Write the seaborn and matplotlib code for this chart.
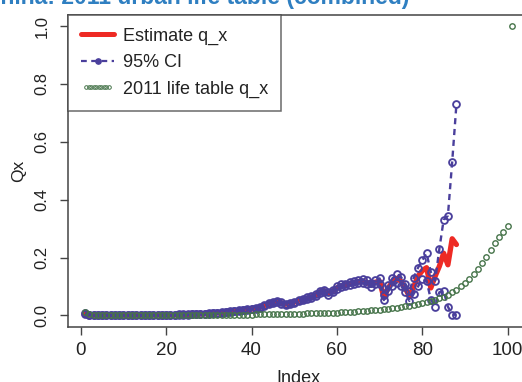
import numpy as np
import pandas as pd
import matplotlib
matplotlib.use("Agg")
import matplotlib.pyplot as plt
import seaborn as sns
from matplotlib.lines import Line2D
from matplotlib.legend_handler import HandlerLine2D

# ---------------- data ----------------
estimate_qx = [0.006, 0.002, 0.001, 0.001, 0.001, 0.001, 0.001, 0.001, 0.001, 0.001,
               0.001, 0.001, 0.001, 0.001, 0.0015, 0.0015, 0.002, 0.002, 0.002, 0.002,
               0.0025, 0.0025, 0.003, 0.003, 0.0035, 0.004, 0.004, 0.005, 0.006, 0.007,
               0.008, 0.009, 0.010, 0.012, 0.013, 0.015, 0.017, 0.019, 0.020, 0.022,
               0.024, 0.028, 0.034, 0.040, 0.045, 0.047, 0.043, 0.039, 0.041, 0.046,
               0.052, 0.055, 0.059, 0.063, 0.070, 0.081, 0.085, 0.076, 0.084, 0.095,
               0.102, 0.105, 0.110, 0.113, 0.117, 0.118, 0.114, 0.106, 0.115, 0.118,
               0.062, 0.095, 0.115, 0.128, 0.118, 0.095, 0.065, 0.100, 0.135, 0.155,
               0.165, 0.095, 0.135, 0.170, 0.215, 0.175, 0.265, 0.245]

ci_lower = [0.004, 0.001, 0.0005, 0.0005, 0.0005, 0.0005, 0.0005, 0.0005, 0.0005, 0.0005,
            0.0005, 0.0005, 0.0005, 0.0005, 0.001, 0.001, 0.0015, 0.0015, 0.0015, 0.0015,
            0.002, 0.002, 0.0025, 0.0025, 0.003, 0.0035, 0.0035, 0.0045, 0.0055, 0.0065,
            0.0075, 0.0085, 0.0095, 0.011, 0.012, 0.014, 0.016, 0.018, 0.019, 0.021,
            0.023, 0.026, 0.032, 0.038, 0.043, 0.045, 0.041, 0.037, 0.039, 0.044,
            0.050, 0.052, 0.056, 0.060, 0.067, 0.077, 0.081, 0.072, 0.080, 0.090,
            0.097, 0.100, 0.104, 0.107, 0.111, 0.111, 0.107, 0.099, 0.107, 0.108,
            0.053, 0.084, 0.102, 0.113, 0.103, 0.080, 0.050, 0.075, 0.100, 0.125,
            0.120, 0.055, 0.030, 0.080, 0.085, 0.030, 0.003, 0.002]

ci_upper = [0.008, 0.003, 0.0015, 0.0015, 0.0015, 0.0015, 0.0015, 0.0015, 0.0015, 0.0015,
            0.0015, 0.0015, 0.0015, 0.0015, 0.002, 0.002, 0.0025, 0.0025, 0.0025, 0.0025,
            0.003, 0.003, 0.0035, 0.0035, 0.004, 0.0045, 0.0045, 0.0055, 0.0065, 0.0075,
            0.0085, 0.0095, 0.0105, 0.013, 0.014, 0.016, 0.018, 0.020, 0.021, 0.023,
            0.025, 0.030, 0.036, 0.042, 0.047, 0.049, 0.045, 0.041, 0.043, 0.048,
            0.054, 0.058, 0.062, 0.066, 0.073, 0.085, 0.089, 0.080, 0.088, 0.100,
            0.107, 0.110, 0.116, 0.119, 0.123, 0.125, 0.121, 0.113, 0.123, 0.128,
            0.072, 0.106, 0.128, 0.143, 0.133, 0.110, 0.085, 0.130, 0.165, 0.190,
            0.215, 0.150, 0.120, 0.230, 0.330, 0.345, 0.530, 0.730]

life_table_qx = [0.012, 0.004, 0.002, 0.0015, 0.0012,
                 0.001, 0.001, 0.001, 0.001, 0.001, 0.001, 0.001,
                 0.0011, 0.0011, 0.0011, 0.0011, 0.0011, 0.0011,
                 0.0013, 0.0013, 0.0013, 0.0013, 0.0013, 0.0013,
                 0.0015, 0.0015, 0.0015, 0.0015, 0.0015, 0.0015,
                 0.0018, 0.0019, 0.002, 0.0021, 0.0022,
                 0.0024, 0.0026, 0.0028, 0.003, 0.0032,
                 0.0034, 0.0036, 0.0038, 0.004, 0.0043,
                 0.0046, 0.0049, 0.0052, 0.0055, 0.0058,
                 0.0061, 0.0064, 0.0067, 0.007, 0.0074,
                 0.0078, 0.0083, 0.0088, 0.0094, 0.010,
                 0.0107, 0.0115, 0.0123, 0.0132, 0.0142,
                 0.0152, 0.0163, 0.0175, 0.0188, 0.0202,
                 0.0217, 0.0233, 0.025, 0.0268, 0.0288,
                 0.031, 0.0335, 0.036, 0.039, 0.042,
                 0.046, 0.050, 0.054, 0.059, 0.065,
                 0.072, 0.080, 0.089, 0.100, 0.112,
                 0.126, 0.142, 0.160, 0.180, 0.202,
                 0.226, 0.249, 0.270, 0.290, 0.308,
                 1.0]

x_ticks = [0, 20, 40, 60, 80, 100]
y_ticks = [0.0, 0.2, 0.4, 0.6, 0.8, 1.0]
y_tick_labels = ["0.0", "0.2", "0.4", "0.6", "0.8", "1.0"]
legend_labels = ["Estimate q_x", "95% CI", "2011 life table q_x"]
title_text = "China: 2011 urban life table (combined)"

est_df = pd.DataFrame({"Index": np.arange(1, len(estimate_qx) + 1),
                       "est": estimate_qx, "lo": ci_lower, "hi": ci_upper})
lt_df = pd.DataFrame({"Index": np.arange(1, len(life_table_qx) + 1), "qx": life_table_qx})

# ---------------- style ----------------
sns.set_theme(style="white")
plt.rcParams["font.family"] = ["Liberation Sans", "DejaVu Sans"]

RED = "#ee2a24"
BLUE = "#4a3f9c"
GREEN = "#46744a"
FRAME = "#444444"
TXT = "#222222"

fig = plt.figure(figsize=(5.22, 3.82), dpi=100)
ax = fig.add_axes([68 / 522, 1 - 327 / 382, (529 - 68) / 522, (327 - 14.5) / 382])

sns.lineplot(data=est_df, x="Index", y="est", ax=ax, color=RED, linewidth=3.8,
             zorder=2, legend=False)
for col in ["lo", "hi"]:
    sns.lineplot(data=est_df, x="Index", y=col, ax=ax, color=BLUE, linewidth=1.7,
                 linestyle=(0, (2.6, 2.0)), marker="o", markersize=4.9,
                 markerfacecolor="none", markeredgecolor=BLUE, markeredgewidth=1.35,
                 zorder=3, legend=False)
sns.lineplot(data=lt_df, x="Index", y="qx", ax=ax, color=GREEN, linestyle="none",
             marker="o", markersize=3.9, markerfacecolor="none",
             markeredgecolor=GREEN, markeredgewidth=1.0, zorder=4, legend=False)

ax.set_xlim(-3, 105)
ax.set_ylim(-0.04, 1.04)
ax.set_xticks(x_ticks)
ax.set_xticklabels([str(t) for t in x_ticks], fontsize=13.5, color=TXT)
ax.set_yticks(y_ticks)
ax.set_yticklabels(y_tick_labels, fontsize=12, rotation=90, va="center", color=TXT)
ax.tick_params(axis="both", which="both", direction="out", length=5.5, width=1.0,
               color=FRAME, bottom=True, left=True)
ax.tick_params(axis="x", pad=5)
ax.tick_params(axis="y", pad=8)
for sp in ax.spines.values():
    sp.set_color(FRAME)
    sp.set_linewidth(1.1)

ax.set_xlabel("Index", fontsize=13, color=TXT, labelpad=8)
ax.set_ylabel("Qx", fontsize=12.5, color=TXT, labelpad=6)

handles = [
    Line2D([], [], color=RED, linewidth=3.6),
    Line2D([], [], color=BLUE, linewidth=1.6, linestyle=(0, (2.6, 2.0)), marker="o",
           markersize=3.8, markerfacecolor=BLUE, markeredgecolor=BLUE),
    Line2D([], [], color=GREEN, linestyle="none", marker="o", markersize=2.6,
           markerfacecolor="none", markeredgecolor=GREEN, markeredgewidth=0.7),
]
leg = ax.legend(handles, legend_labels, loc="upper left", borderaxespad=0,
                fontsize=13, frameon=True, fancybox=False, handlelength=1.85,
                handletextpad=0.45, labelspacing=0.52, borderpad=0.72,
                handler_map={handles[1]: HandlerLine2D(numpoints=1),
                             handles[2]: HandlerLine2D(numpoints=10)})
leg.get_frame().set_edgecolor(FRAME)
leg.get_frame().set_linewidth(1.1)
for t in leg.get_texts():
    t.set_color(TXT)

fig.text(409 / 522, 1 - 4 / 382, title_text, ha="right", va="baseline",
         fontsize=16.5, fontweight="bold", color="#2f7fc1")

fig.savefig("out.png", dpi=100, facecolor="white")
